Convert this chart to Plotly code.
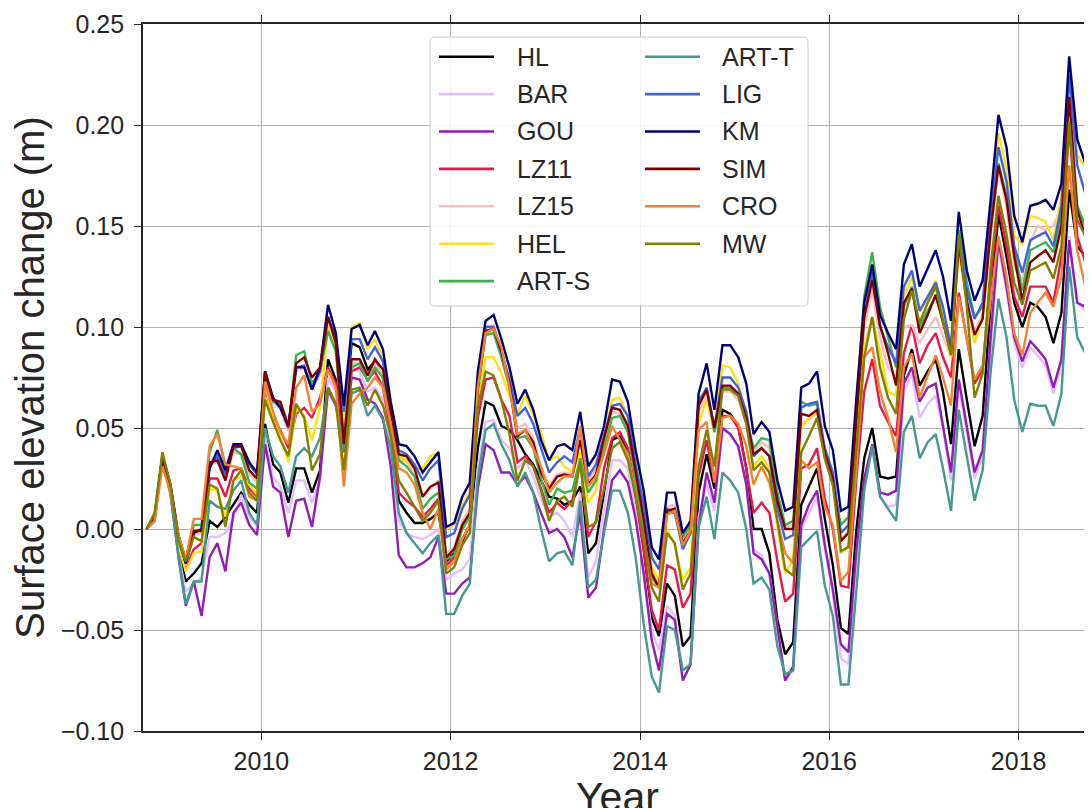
import plotly.graph_objects as go

# ---------------- data (monthly, mid-month, Oct 2008 onward) ----------------
start_year, start_month, n_months = 2008, 10, 121
dates = []
yy, mm = start_year, start_month
for _ in range(n_months):
    dates.append(f"{yy}-{mm:02d}-15")
    mm += 1
    if mm > 12:
        mm = 1
        yy += 1

names = ["HL", "BAR", "GOU", "LZ11", "LZ15", "HEL", "ART-S",
         "ART-T", "LIG", "KM", "SIM", "CRO", "MW"]
colors = ["#000000", "#e6beff", "#911eb4", "#e6194b", "#fabebe", "#ffe119", "#3cb44b",
          "#469990", "#4363d8", "#000075", "#800000", "#f58231", "#808000"]

HL = [0, .005, .036, .019, -.010, -.026, -.022, -.017, .004, .001,
      .006, .012, .018, .012, .008, .052, .032, .028, .013, .030,
      .030, .018, .029, .084, .074, .050, .092, .090, .079, .083,
      .075, .052, .014, .008, .003, .003, .005, .008, -.016, -.012,
      -.006, .002, .040, .063, .061, .051, .049, .044, .037, .032,
      .024, .016, .015, .012, .014, .021, -.012, -.007, .018, .044,
      .046, .039, .018, -.010, -.044, -.053, -.027, -.033, -.058, -.053,
      .018, .037, .020, .059, .057, .051, .030, .000, .000, -.012,
      -.045, -.062, -.056, .012, .021, .030, .005, -.018, -.049, -.052,
      .000, .035, .050, .026, .025, .026, .076, .089, .071, .078,
      .084, .068, .042, .089, .064, .041, .056, .112, .156, .135,
      .112, .100, .112, .110, .105, .092, .107, .168, .140, .135,
      .128]
BAR = [0, .005, .035, .018, -.012, -.031, -.027, -.024, -.004, -.004,
       -.002, .005, .017, .006, .002, .045, .026, .021, .008, .024,
       .024, .013, .024, .075, .068, .048, .080, .078, .068, .070,
       .064, .042, .004, -.002, -.004, -.005, -.003, .000, -.025, -.022,
       -.020, -.015, .030, .053, .054, .044, .040, .030, .034, .026,
       .015, .006, .008, .004, -.004, .018, -.024, -.016, .010, .034,
       .034, .030, .008, -.020, -.050, -.060, -.038, -.043, -.070, -.066,
       .006, .022, .009, .049, .047, .040, .022, -.010, -.013, -.022,
       -.050, -.075, -.070, .000, .008, .016, -.010, -.032, -.064, -.067,
       -.015, .022, .040, .016, .011, .012, .068, .077, .055, .062,
       .066, .050, .024, .070, .048, .025, .036, .090, .140, .118,
       .092, .080, .090, .086, .081, .067, .082, .145, .112, .108,
       .100]
GOU = [0, .004, .036, .018, -.014, -.038, -.026, -.043, -.014, -.007,
       -.021, .008, .013, .002, -.003, .042, .021, .018, -.004, .014,
       .015, .001, .026, .069, .061, .045, .075, .074, .064, .062,
       .055, .031, -.013, -.019, -.019, -.017, -.014, -.004, -.032, -.032,
       -.027, -.024, .020, .042, .039, .028, .028, .022, .026, .018,
       .008, -.002, .000, -.004, -.014, .008, -.034, -.029, .000, .024,
       .029, .023, .005, -.022, -.055, -.070, -.042, -.045, -.075, -.067,
       .001, .028, .013, .050, .047, .041, .022, -.012, -.015, -.022,
       -.048, -.075, -.068, .002, .012, .019, -.008, -.030, -.057, -.061,
       -.010, .025, .042, .018, .017, .019, .072, .080, .063, .070,
       .072, .052, .028, .074, .050, .028, .039, .095, .143, .120,
       .095, .083, .093, .089, .084, .070, .084, .143, .112, .110,
       .102]
LZ11 = [0, .006, .035, .020, -.007, -.019, -.010, -.007, .025, .025,
        .016, .029, .030, .020, .016, .070, .055, .049, .040, .057,
        .060, .055, .065, .080, .072, .038, .078, .080, .074, .078,
        .070, .048, .018, .014, .011, .006, .010, .015, -.018, -.014,
        -.005, .002, .055, .074, .075, .064, .056, .033, .036, .031,
        .020, .008, .013, .010, .014, .034, -.004, .004, .030, .045,
        .048, .040, .016, -.010, -.040, -.050, -.018, -.020, -.039, -.032,
        .026, .044, .023, .056, .056, .050, .030, .008, .013, .008,
        -.016, -.036, -.032, .030, .032, .040, .015, .000, -.028, -.029,
        .025, .068, .084, .061, .053, .046, .087, .101, .082, .091,
        .097, .085, .075, .117, .094, .072, .079, .125, .160, .140,
        .115, .105, .120, .120, .120, .112, .135, .200, .145, .132,
        .120]
LZ15 = [0, .006, .036, .021, -.005, -.018, -.003, -.002, .032, .033,
        .024, .038, .037, .027, .023, .075, .062, .060, .048, .078,
        .080, .070, .076, .100, .088, .045, .082, .082, .075, .082,
        .076, .055, .035, .033, .028, .016, .020, .024, -.012, -.009,
        .004, .010, .072, .100, .101, .088, .072, .050, .052, .045,
        .030, .022, .027, .028, .027, .046, .024, .030, .044, .058,
        .057, .050, .026, .005, -.020, -.027, .011, .012, -.005, .001,
        .058, .066, .048, .068, .068, .064, .052, .038, .043, .040,
        .016, .001, .002, .052, .054, .058, .036, .022, -.005, -.001,
        .050, .100, .118, .095, .080, .075, .100, .101, .092, .099,
        .105, .095, .085, .138, .112, .098, .106, .145, .178, .160,
        .130, .123, .142, .150, .148, .150, .160, .220, .160, .148,
        .138]
HEL = [0, .005, .035, .019, -.008, -.021, -.012, -.011, .020, .019,
       .006, .024, .026, .022, .017, .072, .054, .046, .033, .060,
       .056, .044, .060, .100, .090, .050, .100, .102, .089, .094,
       .084, .058, .036, .034, .030, .030, .036, .038, .000, .002,
       .012, .018, .062, .085, .085, .077, .066, .057, .066, .057,
       .048, .034, .036, .031, .028, .038, .013, .019, .044, .064,
       .065, .055, .033, .010, -.019, -.025, .000, -.008, -.025, -.019,
       .052, .064, .048, .081, .080, .072, .056, .031, .036, .030,
       .001, -.022, -.015, .050, .055, .058, .038, .025, -.012, -.008,
       .045, .090, .105, .088, .068, .066, .115, .125, .108, .115,
       .123, .105, .085, .140, .112, .092, .105, .155, .196, .178,
       .145, .141, .155, .154, .152, .143, .165, .220, .185, .179,
       .165]
ARTS = [0, .007, .037, .021, -.005, -.017, .002, .002, .038, .049,
        .030, .040, .037, .023, .020, .076, .063, .062, .050, .086,
        .088, .072, .078, .098, .088, .045, .080, .082, .073, .080,
        .075, .055, .034, .031, .026, .010, .015, .018, -.015, -.013,
        .000, .006, .068, .096, .097, .085, .070, .045, .046, .040,
        .025, .012, .020, .018, .019, .035, .018, .024, .040, .055,
        .056, .048, .024, .000, -.024, -.029, .008, .008, -.004, .002,
        .064, .069, .048, .070, .070, .066, .055, .040, .045, .044,
        .018, .002, .004, .063, .061, .062, .035, .022, .002, .006,
        .062, .115, .137, .110, .095, .080, .110, .120, .100, .108,
        .115, .103, .090, .148, .122, .105, .110, .150, .181, .165,
        .138, .118, .138, .140, .142, .137, .155, .200, .160, .150,
        .140]
ARTT = [0, .005, .034, .017, -.013, -.037, -.026, -.026, .014, .011,
        .010, .019, .024, .008, .002, .050, .036, .031, .018, .036,
        .040, .036, .045, .070, .062, .039, .067, .069, .056, .061,
        .054, .040, .008, -.002, -.007, -.012, -.007, -.003, -.042, -.042,
        -.033, -.027, .025, .049, .052, .042, .034, .021, .028, .018,
        .000, -.016, -.012, -.011, -.018, .014, -.029, -.025, -.002, .019,
        .019, .008, -.014, -.047, -.073, -.081, -.048, -.050, -.070, -.067,
        .001, .016, -.005, .028, .024, .018, .000, -.027, -.024, -.030,
        -.058, -.072, -.070, -.009, -.005, -.001, -.028, -.043, -.077, -.077,
        -.030, .019, .041, .016, .010, .004, .048, .056, .035, .043,
        .047, .030, .009, .059, .036, .014, .029, .078, .114, .095,
        .064, .048, .062, .061, .061, .051, .067, .130, .095, .087,
        .070]
LIG = [0, .006, .036, .021, -.005, -.017, -.002, .000, .031, .036,
       .027, .040, .041, .032, .027, .077, .064, .060, .050, .080,
       .081, .069, .078, .105, .095, .058, .094, .094, .084, .090,
       .083, .060, .039, .037, .032, .024, .030, .034, -.004, -.002,
       .010, .017, .072, .100, .100, .088, .074, .056, .060, .052,
       .040, .028, .033, .036, .033, .050, .026, .032, .046, .061,
       .062, .056, .032, .012, -.014, -.020, .010, .008, -.010, -.002,
       .062, .070, .050, .075, .075, .070, .058, .036, .040, .036,
       .010, -.005, -.003, .060, .062, .063, .040, .028, -.002, .002,
       .058, .105, .127, .100, .090, .082, .120, .128, .108, .115,
       .122, .110, .090, .145, .118, .104, .112, .155, .189, .172,
       .140, .127, .143, .145, .147, .140, .160, .225, .180, .166,
       .153]
KM = [0, .006, .036, .021, -.004, -.017, -.002, .000, .030, .039,
      .029, .042, .042, .033, .028, .078, .065, .060, .051, .080,
      .080, .069, .080, .111, .097, .061, .099, .101, .091, .098,
      .089, .063, .042, .041, .036, .028, .033, .038, .001, .003,
      .016, .023, .078, .103, .106, .094, .080, .062, .069, .059,
      .044, .034, .041, .042, .039, .058, .031, .037, .051, .074,
      .073, .063, .039, .019, -.009, -.015, .018, .018, -.002, .004,
      .067, .082, .059, .091, .091, .085, .072, .047, .053, .048,
      .024, .009, .011, .070, .072, .078, .051, .039, .009, .011,
      .065, .112, .131, .106, .097, .089, .131, .141, .120, .129,
      .138, .125, .103, .157, .128, .113, .123, .163, .205, .189,
      .155, .142, .160, .161, .163, .158, .171, .234, .193, .181,
      .168]
SIM = [0, .006, .036, .022, -.003, -.016, -.001, -.001, .033, .034,
       .024, .041, .041, .029, .025, .078, .064, .063, .051, .082,
       .085, .075, .080, .105, .092, .042, .084, .084, .076, .084,
       .079, .058, .037, .036, .030, .016, .021, .023, -.014, -.010,
       .002, .008, .070, .098, .099, .088, .072, .046, .049, .043,
       .028, .020, .026, .027, .026, .044, .022, .027, .045, .060,
       .059, .051, .028, .005, -.022, -.029, .009, .010, -.007, -.001,
       .061, .069, .050, .071, .071, .067, .055, .037, .040, .036,
       .014, .000, .000, .057, .056, .059, .038, .025, -.006, -.002,
       .055, .105, .123, .101, .087, .071, .112, .119, .097, .106,
       .116, .102, .087, .141, .113, .096, .104, .148, .180, .163,
       .135, .113, .132, .135, .138, .132, .150, .214, .158, .145,
       .127]
CRO = [0, .004, .031, .018, -.003, -.015, .005, .005, .041, .047,
       .032, .031, .030, .016, .014, .073, .058, .048, .042, .070,
       .076, .058, .062, .079, .070, .021, .062, .067, .070, .075,
       .070, .052, .030, .028, .022, .008, .000, .010, -.020, -.016,
       -.005, .002, .070, .097, .099, .090, .070, .047, .049, .040,
       .031, .018, .023, .026, .026, .051, .021, .026, .037, .051,
       .044, .037, .018, -.005, -.027, -.029, .007, .009, -.008, -.001,
       .049, .053, .023, .055, .056, .052, .041, .022, .031, .023,
       .004, -.012, -.017, .034, .030, .033, .011, .002, -.026, -.021,
       .030, .085, .090, .068, .055, .038, .080, .087, .065, .076,
       .086, .075, .061, .115, .095, .074, .081, .115, .145, .125,
       .097, .086, .107, .112, .117, .110, .125, .180, .138, .120,
       .102]
MW = [0, .008, .038, .022, -.006, -.016, -.004, -.006, .022, .020,
      .001, .024, .029, .018, .014, .064, .053, .044, .036, .062,
      .055, .029, .037, .070, .062, .029, .069, .070, .061, .069,
      .061, .046, .024, .018, .011, .004, .008, .014, -.022, -.019,
      -.008, -.002, .060, .078, .076, .064, .047, .024, .034, .031,
      .019, .004, .014, .016, .011, .033, .001, .003, .020, .040,
      .043, .034, .016, -.004, -.029, -.036, -.002, -.007, -.030, -.022,
      .031, .049, .031, .069, .069, .066, .052, .029, .033, .028,
      .004, -.020, -.023, .038, .046, .055, .035, .022, -.011, -.009,
      .040, .085, .105, .080, .065, .057, .104, .118, .102, .112,
      .120, .103, .086, .146, .110, .065, .077, .130, .165, .146,
      .122, .111, .128, .130, .132, .124, .140, .202, .153, .145,
      .136]

series = [HL, BAR, GOU, LZ11, LZ15, HEL, ARTS, ARTT, LIG, KM, SIM, CRO, MW]

# ---------------- figure ----------------
# the page body adds an 8 px offset, so the figure is sized/margined to compensate
W, H = 1084, 800
L, R, T, B = 135, 0, 16, 77
PX0, PX1, PY0, PY1 = 143, 1092, 24, 731      # plot area as seen on screen
TXT = "#262626"
FONT = "Liberation Sans, Arial, sans-serif"

fig = go.Figure()
for nm, col, vals in zip(names, colors, series):
    fig.add_trace(go.Scatter(x=dates, y=vals, mode="lines", name=nm,
                             line=dict(color=col, width=2.4), showlegend=False))

def px(x):
    return (x - PX0) / (PX1 - PX0)

def py(y):
    return (PY1 - y) / (PY1 - PY0)

# legend box (rounded), drawn above the lines
bx0, bx1, by0, by1, rad = 430, 808, 37, 306, 5
rx, ry = rad / (PX1 - PX0), rad / (PY1 - PY0)
X0, X1, Y0, Y1 = px(bx0), px(bx1), py(by1), py(by0)
path = (f"M{X0+rx},{Y0} L{X1-rx},{Y0} Q{X1},{Y0} {X1},{Y0+ry} "
        f"L{X1},{Y1-ry} Q{X1},{Y1} {X1-rx},{Y1} L{X0+rx},{Y1} "
        f"Q{X0},{Y1} {X0},{Y1-ry} L{X0},{Y0+ry} Q{X0},{Y0} {X0+rx},{Y0} Z")
shapes = [dict(type="path", path=path, xref="paper", yref="paper",
               fillcolor="rgba(255,255,255,0.85)",
               line=dict(color="#cccccc", width=1), layer="above")]
annotations = []
row0, drow = 56.7, 37.4
for k, (nm, col) in enumerate(zip(names, colors)):
    colidx, r = (0, k) if k < 7 else (1, k - 7)
    lx0, lx1, tx = (439, 494, 515) if colidx == 0 else (645, 700, 720)
    yrow = row0 + drow * r
    shapes.append(dict(type="line", xref="paper", yref="paper",
                       x0=px(lx0), x1=px(lx1), y0=py(yrow), y1=py(yrow),
                       line=dict(color=col, width=2.6), layer="above"))
    annotations.append(dict(text=nm, xref="paper", yref="paper",
                            x=px(tx), y=py(yrow), xanchor="left", yanchor="middle",
                            showarrow=False, font=dict(size=25, color=TXT, family=FONT)))

# x-axis title, placed low like the reference (partly below the page edge)
annotations.append(dict(text="Year", xref="paper", yref="paper",
                        x=0.5, y=py(797), xanchor="center", yanchor="middle",
                        showarrow=False, font=dict(size=41, color=TXT, family=FONT)))

fig.update_layout(
    width=W, height=H,
    margin=dict(l=L, r=R, t=T, b=B),
    paper_bgcolor="white", plot_bgcolor="white",
    font=dict(family=FONT, color=TXT),
    shapes=shapes, annotations=annotations,
    showlegend=False,
)
fig.update_xaxes(
    type="date", range=["2008-10-01", "2018-10-11"],
    tick0="2010-01-01", dtick="M24", tickformat="%Y",
    showgrid=True, gridcolor="#b0b0b0", gridwidth=1.2,
    showline=True, linecolor=TXT, linewidth=1.6, mirror="ticks",
    ticks="outside", ticklen=7, tickwidth=1.4, tickcolor=TXT,
    tickfont=dict(size=25, color=TXT, family=FONT),
    automargin=False,
)
fig.update_yaxes(
    range=[-0.10, 0.25], tick0=-0.10, dtick=0.05, tickformat=".2f",
    showgrid=True, gridcolor="#b0b0b0", gridwidth=1.2, zeroline=False,
    showline=True, linecolor=TXT, linewidth=1.6, mirror=False,
    ticks="outside", ticklen=7, tickwidth=1.4, tickcolor=TXT, ticklabelstandoff=5,
    tickfont=dict(size=25, color=TXT, family=FONT),
    title=dict(text="Surface elevation change (m)",
               font=dict(size=40, color=TXT, family=FONT), standoff=5),
    automargin=False,
)

fig.write_html("out.html")
